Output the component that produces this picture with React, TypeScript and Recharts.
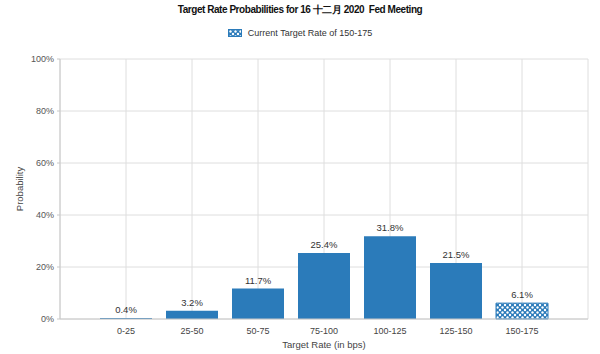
import React from 'react'
import { BarChart, Bar, XAxis, YAxis, CartesianGrid, LabelList, Cell } from 'recharts'

const categories = ['0-25', '25-50', '50-75', '75-100', '100-125', '125-150', '150-175']
const probabilities = [0.4, 3.2, 11.7, 25.4, 31.8, 21.5, 6.1]
const currentRange = '150-175'
const yTicks = [0, 20, 40, 60, 80, 100]

const BLUE = '#2b7bba'
const FONT = '"Liberation Sans", Arial, sans-serif'

const data = categories.map((name, i) => ({ pos: i + 1, name, value: probabilities[i] }))
const xTicks = Array.from({ length: categories.length + 2 }, (_, i) => i)

const PatternDefs = () => (
  <svg width={0} height={0} style={{ position: 'absolute' }}>
    <defs>
      <pattern id="hatch" width={5} height={5} patternUnits="userSpaceOnUse">
        <rect width={5} height={5} fill={BLUE} />
        <circle cx={0} cy={0} r={1.2} fill="#fff" />
        <circle cx={5} cy={0} r={1.2} fill="#fff" />
        <circle cx={0} cy={5} r={1.2} fill="#fff" />
        <circle cx={5} cy={5} r={1.2} fill="#fff" />
        <circle cx={2.5} cy={2.5} r={1.2} fill="#fff" />
      </pattern>
    </defs>
  </svg>
)

export default function App() {
  return (
    <div style={{ position: 'absolute', left: 0, top: 0, width: 600, height: 354, background: '#fff', fontFamily: FONT }}>
      <PatternDefs />
      <div
        style={{
          position: 'absolute',
          top: 3,
          left: 0,
          width: 600,
          textAlign: 'center',
          fontSize: 10,
          fontWeight: 'bold',
          letterSpacing: -0.45,
          color: '#111',
        }}
      >
        Target Rate Probabilities for 16 十二月 2020&nbsp; Fed Meeting
      </div>
      <div
        style={{
          position: 'absolute',
          top: 28,
          left: 0,
          width: 600,
          display: 'flex',
          justifyContent: 'center',
          alignItems: 'center',
          fontSize: 9,
          color: '#333',
        }}
      >
        <svg width={14} height={8} style={{ marginRight: 6 }}>
          <rect x={0.5} y={0.5} width={13} height={7} fill="url(#hatch)" stroke={BLUE} />
        </svg>
        Current Target Rate of {currentRange}
      </div>
      <BarChart
        width={600}
        height={354}
        data={data}
        margin={{ top: 59, right: 12, bottom: 0, left: 0 }}
      >
        <CartesianGrid stroke="#dedede" />
        <XAxis
          dataKey="pos"
          type="number"
          domain={[0, categories.length + 1]}
          ticks={xTicks}
          interval={0}
          tickFormatter={(v: number) => categories[v - 1] ?? ''}
          tick={{ fontSize: 9, fill: '#444', fontFamily: FONT }}
          tickLine={false}
          tickMargin={3}
          axisLine={{ stroke: '#c8c8c8' }}
          height={35}
          label={{
            value: 'Target Rate (in bps)',
            position: 'insideBottom',
            offset: 6,
            style: { fontSize: 9.5, fill: '#444', fontFamily: FONT },
          }}
        />
        <YAxis
          domain={[0, 100]}
          ticks={yTicks}
          tickFormatter={(v: number) => `${v}%`}
          tick={{ fontSize: 9, fill: '#555', fontFamily: FONT }}
          tickSize={3}
          tickMargin={3}
          tickLine={{ stroke: '#c8c8c8' }}
          axisLine={{ stroke: '#c8c8c8' }}
          width={60}
          label={{
            value: 'Probability',
            angle: -90,
            position: 'insideLeft',
            offset: 20,
            style: { fontSize: 9.5, fill: '#444', textAnchor: 'middle', fontFamily: FONT },
          }}
        />
        <Bar dataKey="value" barSize={52} isAnimationActive={false}>
          {data.map((d) => (
            <Cell
              key={d.name}
              fill={d.name === currentRange ? 'url(#hatch)' : BLUE}
              stroke={d.name === currentRange ? BLUE : 'none'}
            />
          ))}
          <LabelList
            dataKey="value"
            position="top"
            offset={5}
            formatter={(v: number) => `${v}%`}
            style={{ fontSize: 9.5, fill: '#333', fontFamily: FONT }}
          />
        </Bar>
      </BarChart>
    </div>
  )
}
